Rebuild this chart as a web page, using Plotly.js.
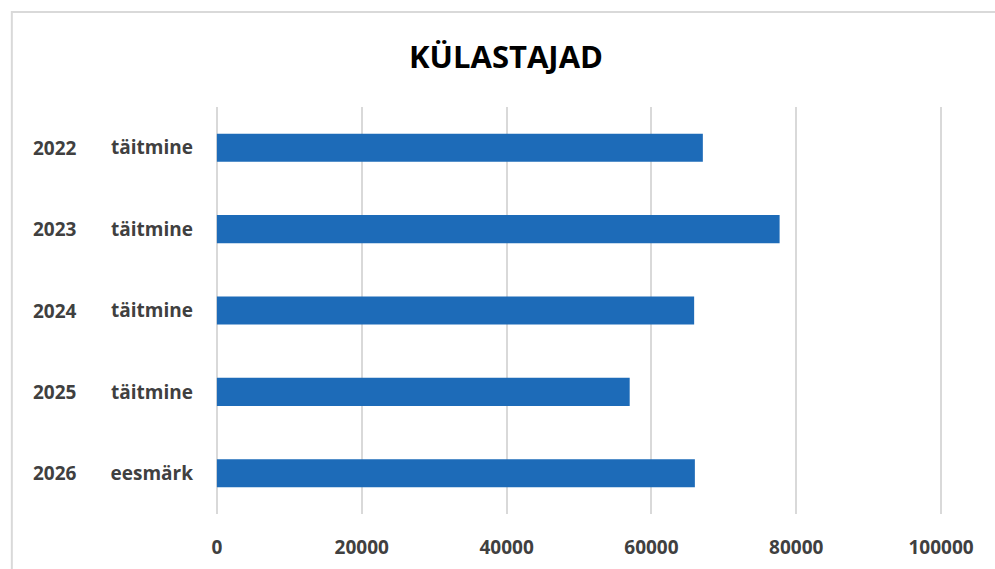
<!DOCTYPE html>
<html>
<head>
<meta charset="utf-8">
<script src="https://cdn.plot.ly/plotly-3.0.1.min.js"></script>
<style>
  html, body { margin: 0; padding: 0; background: #ffffff; }
  #chart { width: 995px; height: 569px; }
</style>
</head>
<body>
<div id="chart"></div>
<script>
// Data
var years = ["2022", "2023", "2024", "2025", "2026"];
var types = ["täitmine", "täitmine", "täitmine", "täitmine", "eesmärk"];
var visitors = [67100, 77700, 65900, 57000, 66000];
var xTickVals = [0, 20000, 40000, 60000, 80000, 100000];
var xTickText = ["0", "20000", "40000", "60000", "80000", "100000"];
var chartTitle = "KÜLASTAJAD";

var cats = years.map(function (y, i) { return y + " " + types[i]; });

var W = 995, H = 569;
var pad = 400;                 // small overshoot so edge gridlines are drawn
var pxPerUnit = 724 / 100000;
var mL = 217 - pad * pxPerUnit;
var pw = (100000 + 2 * pad) * pxPerUnit;
var mR = W - mL - pw;
var mT = 107, mB = 55;
var ph = H - mT - mB;
function px2x(p) { return (p - mL) / pw; }
function py2y(p) { return (H - mB - p) / ph; }

var trace = {
  type: "bar",
  orientation: "h",
  x: visitors,
  y: cats,
  marker: { color: "#1d6bb8" },
  hoverinfo: "x+y"
};

var annotations = years.map(function (y, i) {
  return {
    xref: "paper", yref: "y",
    x: px2x(55), y: cats[i],
    text: y,
    showarrow: false,
    xanchor: "center", yanchor: "middle",
    font: { family: "Open Sans, Noto Sans, sans-serif", size: 19, color: "#404040", weight: "bold" }
  };
});

var layout = {
  width: W, height: H,
  margin: { l: mL, r: mR, t: mT, b: mB, pad: 0 },
  paper_bgcolor: "#ffffff",
  plot_bgcolor: "#ffffff",
  showlegend: false,
  bargap: 0.655,
  title: {
    text: chartTitle,
    x: 506 / W, xref: "container", xanchor: "center",
    y: 1 - 57 / H, yref: "container", yanchor: "middle",
    font: { family: "Open Sans, Noto Sans, sans-serif", size: 31, color: "#000000", weight: "bold" }
  },
  xaxis: {
    range: [-pad, 100000 + pad],
    tickmode: "array",
    tickvals: xTickVals,
    ticktext: xTickText,
    showgrid: true,
    gridcolor: "#d9d9d9",
    gridwidth: 2,
    zeroline: false,
    showline: false,
    ticks: "",
    ticklabelstandoff: 20,
    tickfont: { family: "Open Sans, Noto Sans, sans-serif", size: 19, color: "#404040", weight: "bold" },
    fixedrange: true
  },
  yaxis: {
    type: "category",
    categoryorder: "array",
    categoryarray: cats,
    autorange: "reversed",
    tickmode: "array",
    tickvals: cats,
    ticktext: types,
    showgrid: false,
    zeroline: false,
    showline: false,
    ticks: "",
    ticklabelstandoff: 20,
    tickfont: { family: "Open Sans, Noto Sans, sans-serif", size: 19, color: "#404040", weight: "bold" },
    fixedrange: true
  },
  annotations: annotations,
  shapes: [
    {
      type: "rect", xref: "paper", yref: "paper",
      x0: px2x(12), x1: px2x(1100),
      y0: py2y(700), y1: py2y(12),
      line: { color: "#d9d9d9", width: 2 },
      fillcolor: "rgba(0,0,0,0)",
      layer: "below"
    }
  ]
};

Plotly.newPlot("chart", [trace], layout, { displayModeBar: false, staticPlot: true });
</script>
</body>
</html>
